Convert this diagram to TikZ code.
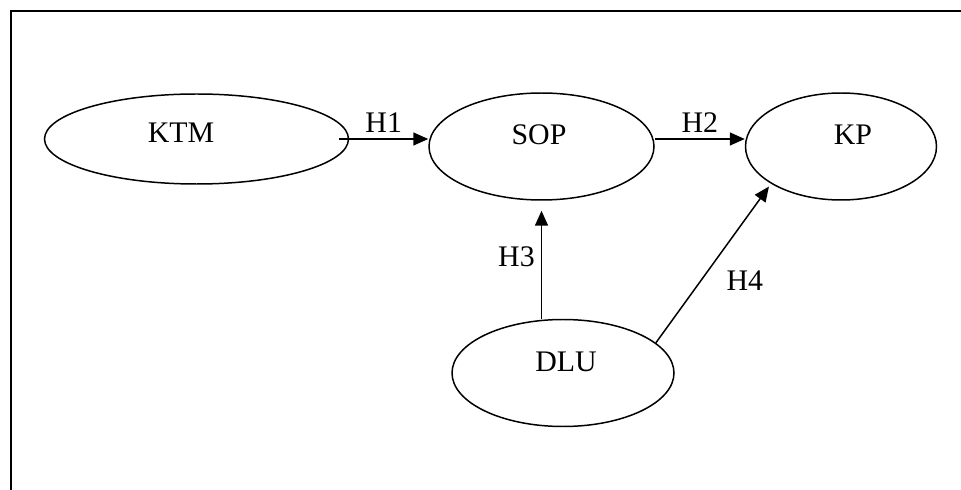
\documentclass[tikz,border=0pt]{standalone}
\usepackage{fontspec}
\setmainfont{Liberation Serif}
\usetikzlibrary{shapes,arrows.meta,positioning,calc}

\tikzset{
    var/.style={ellipse, draw, line width=0.85pt, inner sep=0pt},
    link/.style={line width=0.85pt, -{Triangle[length=0.3cm, width=0.26cm]}},
    hyp/.style={inner sep=0pt}
}

\begin{document}
\begin{tikzpicture}[
    font=\fontsize{17}{20}\selectfont
]

% Page area and the open frame (only left and top edges show)
\useasboundingbox (0,0) rectangle (19.22,9.78);
\draw [line width=1.1pt] (0.22,-0.1) -- (0.22,9.56) -- (19.4,9.56);

% Variables
\node [var, minimum width=6.08cm, minimum height=1.8cm,
       label={[shift={(-0.31,0.12)}]center:KTM}] (ktm) at (3.93,7.0) {};
\node [var, minimum width=4.5cm, minimum height=2.14cm,
       label={[shift={(-0.05,0.23)}]center:SOP}] (sop) at (10.83,6.85) {};
\node [var, minimum width=3.82cm, minimum height=2.14cm,
       label={[shift={(0.24,0.23)}]center:KP}] (kp) at (16.82,6.85) {};
\node [var, minimum width=4.44cm, minimum height=2.14cm,
       label={[shift={(0.06,0.22)}]center:DLU}] (dlu) at (11.26,2.32) {};

% Hypotheses
\draw [link] ([xshift=-0.2cm]ktm.east) -- (ktm.east -| sop.west)
    node [hyp, midway, above=0.12cm] {H1};
\draw [link] (sop.east |- ktm.east) -- (ktm.east -| kp.west)
    node [hyp, midway, above=0.12cm] {H2};
\draw [link] (sop.south |- dlu.north) -- ([yshift=-0.2cm]sop.south)
    node [hyp, pos=0.57, left=0.12cm] {H3};
\draw [link, shorten >=2pt] (dlu.18) -- (kp.208)
    node [hyp, pos=0.39, xshift=0.88cm] {H4};

\end{tikzpicture}
\end{document}
